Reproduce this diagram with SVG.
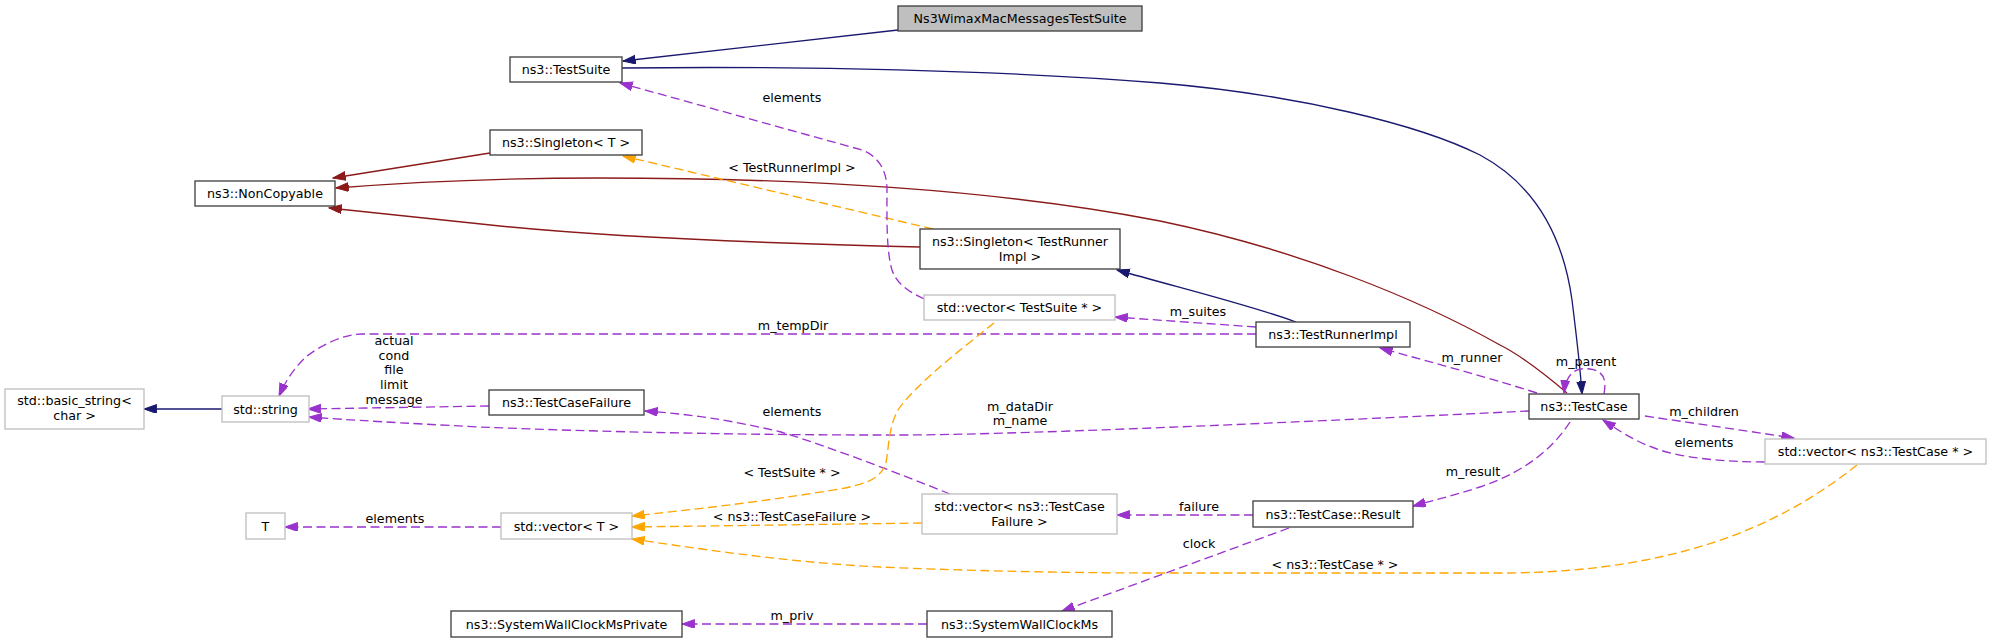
<svg xmlns="http://www.w3.org/2000/svg" width="1992" height="643" viewBox="0 0 1992 643">
<style>
text{font-family:"DejaVu Sans","Liberation Sans",sans-serif;font-size:12.7px;fill:#000;text-anchor:middle}
.n rect{fill:#fff;stroke:#404040;stroke-width:1.33}
.n.g rect{stroke:#bfbfbf}
.n.root rect{fill:#bfbfbf}
.e path{fill:none;stroke-width:1.33}
.nv{stroke:#191970}
.fb{stroke:#8b1a1a}
.us{stroke:#9a32cd;stroke-dasharray:9,4.5}
.tp{stroke:#ffa500;stroke-dasharray:9,4.5}
</style>
<defs>
<marker id="aN" markerUnits="userSpaceOnUse" markerWidth="14" markerHeight="10" refX="12.7" refY="4.45" orient="auto"><path d="M0,0L12.7,4.45L0,8.9z" fill="#191970" stroke="#191970"/></marker>
<marker id="aF" markerUnits="userSpaceOnUse" markerWidth="14" markerHeight="10" refX="12.7" refY="4.45" orient="auto"><path d="M0,0L12.7,4.45L0,8.9z" fill="#8b1a1a" stroke="#8b1a1a"/></marker>
<marker id="aU" markerUnits="userSpaceOnUse" markerWidth="14" markerHeight="10" refX="12.7" refY="4.45" orient="auto"><path d="M0,0L12.7,4.45L0,8.9z" fill="#9a32cd" stroke="#9a32cd"/></marker>
<marker id="aT" markerUnits="userSpaceOnUse" markerWidth="14" markerHeight="10" refX="12.7" refY="4.45" orient="auto"><path d="M0,0L12.7,4.45L0,8.9z" fill="#ffa500" stroke="#ffa500"/></marker>
</defs>
<rect width="1992" height="643" fill="#fff"/>
<g id="connectors" class="e">
<path class="nv" marker-end="url(#aN)" d="M898,30L623,61"/>
<path class="nv" marker-end="url(#aN)" d="M622,68C800,66 1000,70 1160,83C1300,95 1420,125 1480,155C1545,190 1565,250 1572,300C1577,340 1580,365 1582,394"/>
<path class="fb" marker-end="url(#aF)" d="M490,153L333,178"/>
<path class="fb" marker-end="url(#aF)" d="M1567,393C1540,370 1520,355 1500,345C1420,300 1300,250 1160,221C1000,190 800,178 600,178C480,178 400,183 336,188"/>
<path class="fb" marker-end="url(#aF)" d="M920,247C750,243 600,236 500,226C420,218 370,212 329,208"/>
<path class="nv" marker-end="url(#aN)" d="M1296,322C1250,305 1180,288 1117,270"/>
<path class="tp" marker-end="url(#aT)" d="M933,229L623,156"/>
<text x="792" y="171.5">&lt; TestRunnerImpl &gt;</text>
<path class="us" marker-end="url(#aU)" d="M924,299C910,292 897,285 892,270C886,250 887,215 887,190C887,170 878,156 862,150L620,83"/>
<text x="792" y="101.5">elements</text>
<path class="us" marker-end="url(#aU)" d="M1256,327L1115,317"/>
<text x="1198" y="316">m_suites</text>
<path class="us" marker-end="url(#aU)" d="M1256,334L362,334C345,334 322,344 306,357C294,368 285,382 279,396"/>
<text x="793" y="329.5">m_tempDir</text>
<path class="us" marker-end="url(#aU)" d="M489,406L308,409"/>
<text x="394" y="345.2">actual</text>
<text x="394" y="359.8">cond</text>
<text x="394" y="374.4">file</text>
<text x="394" y="389">limit</text>
<text x="394" y="403.6">message</text>
<path class="us" marker-end="url(#aU)" d="M1529,411C1300,422 1000,436 880,435C750,435 600,432 480,427C400,423 350,420 309,417"/>
<text x="1020" y="411.2">m_dataDir</text>
<text x="1020" y="425.2">m_name</text>
<path class="us" marker-end="url(#aU)" d="M1537,393C1480,375 1430,362 1380,348"/>
<text x="1472" y="361.5">m_runner</text>
<path class="us" marker-end="url(#aU)" d="M1604,394C1606,383 1606,371 1590,369C1576,367 1566,373 1564,393"/>
<text x="1586" y="365.5">m_parent</text>
<path class="us" marker-end="url(#aU)" d="M1645,416L1794,438"/>
<text x="1704" y="416">m_children</text>
<path class="us" marker-end="url(#aU)" d="M1765,462C1720,462 1680,457 1660,450C1635,442 1618,430 1603,420"/>
<text x="1704" y="447">elements</text>
<path class="us" marker-end="url(#aU)" d="M1570,422C1555,445 1530,470 1480,487C1455,495 1435,500 1413,506"/>
<text x="1473" y="475.5">m_result</text>
<path class="us" marker-end="url(#aU)" d="M1253,515L1117,515"/>
<text x="1199" y="511">failure</text>
<path class="us" marker-end="url(#aU)" d="M1289,528L1062,611"/>
<text x="1199" y="547.5">clock</text>
<path class="us" marker-end="url(#aU)" d="M927,624L682,624"/>
<text x="792" y="620">m_priv</text>
<path class="us" marker-end="url(#aU)" d="M950,494C900,474 830,447 781,432C730,420 690,414 645,411"/>
<text x="792" y="416">elements</text>
<path class="tp" marker-end="url(#aT)" d="M994,323C960,350 915,385 898,410C887,430 889,455 885,466C878,480 865,484 840,489C760,502 690,510 632,516"/>
<text x="792" y="477">&lt; TestSuite * &gt;</text>
<path class="tp" marker-end="url(#aT)" d="M922,523L632,527"/>
<text x="792" y="521">&lt; ns3::TestCaseFailure &gt;</text>
<path class="tp" marker-end="url(#aT)" d="M1857,465C1800,510 1700,573 1500,573L1160,573C1050,573 950,570 880,567C800,563 720,552 632,539"/>
<text x="1335" y="568.5">&lt; ns3::TestCase * &gt;</text>
<path class="us" marker-end="url(#aU)" d="M501,527L285,527"/>
<text x="395" y="522.5">elements</text>
<path class="nv" marker-end="url(#aN)" d="M222,409L144,409"/>
</g>
<g id="node-Ns3WimaxMacMessagesTestSuite" class="n root"><rect x="898" y="6" width="244" height="25"/><text x="1020" y="23">Ns3WimaxMacMessagesTestSuite</text></g>
<g id="node-TestSuite" class="n"><rect x="510" y="57" width="112" height="25"/><text x="566" y="74">ns3::TestSuite</text></g>
<g id="node-SingletonT" class="n"><rect x="490" y="130" width="152" height="25"/><text x="566" y="147">ns3::Singleton&lt; T &gt;</text></g>
<g id="node-NonCopyable" class="n"><rect x="195" y="181" width="140" height="25"/><text x="265" y="198">ns3::NonCopyable</text></g>
<g id="node-SingletonTestRunnerImpl" class="n"><rect x="920" y="229" width="200" height="40"/><text x="1020" y="245.5">ns3::Singleton&lt; TestRunner</text><text x="1020" y="260.5">Impl &gt;</text></g>
<g id="node-vectorTestSuite" class="n g"><rect x="924" y="295" width="191" height="25"/><text x="1019.5" y="312">std::vector&lt; TestSuite * &gt;</text></g>
<g id="node-TestRunnerImpl" class="n"><rect x="1256" y="322" width="154" height="25"/><text x="1333" y="339">ns3::TestRunnerImpl</text></g>
<g id="node-basic_string" class="n g"><rect x="5" y="389" width="139" height="40"/><text x="74.5" y="405.2">std::basic_string&lt;</text><text x="74.5" y="420.2">char &gt;</text></g>
<g id="node-string" class="n g"><rect x="222" y="396" width="87" height="26"/><text x="265.5" y="413.5">std::string</text></g>
<g id="node-TestCaseFailure" class="n"><rect x="489" y="390" width="155" height="25"/><text x="566.5" y="407">ns3::TestCaseFailure</text></g>
<g id="node-TestCase" class="n"><rect x="1529" y="394" width="110" height="25"/><text x="1584" y="411">ns3::TestCase</text></g>
<g id="node-vectorTestCase" class="n g"><rect x="1765" y="439" width="221" height="25"/><text x="1875.5" y="456">std::vector&lt; ns3::TestCase * &gt;</text></g>
<g id="node-T" class="n g"><rect x="246" y="513" width="39" height="26"/><text x="265.5" y="530.5">T</text></g>
<g id="node-vectorT" class="n g"><rect x="501" y="513" width="131" height="26"/><text x="566.5" y="530.5">std::vector&lt; T &gt;</text></g>
<g id="node-vectorTestCaseFailure" class="n g"><rect x="922" y="494" width="195" height="40"/><text x="1019.5" y="510.5">std::vector&lt; ns3::TestCase</text><text x="1019.5" y="525.5">Failure &gt;</text></g>
<g id="node-TestCaseResult" class="n"><rect x="1253" y="501" width="160" height="26"/><text x="1333" y="518.5">ns3::TestCase::Result</text></g>
<g id="node-SystemWallClockMsPrivate" class="n"><rect x="451" y="611" width="231" height="26"/><text x="566.5" y="628.5">ns3::SystemWallClockMsPrivate</text></g>
<g id="node-SystemWallClockMs" class="n"><rect x="927" y="611" width="185" height="26"/><text x="1019.5" y="628.5">ns3::SystemWallClockMs</text></g>
</svg>
